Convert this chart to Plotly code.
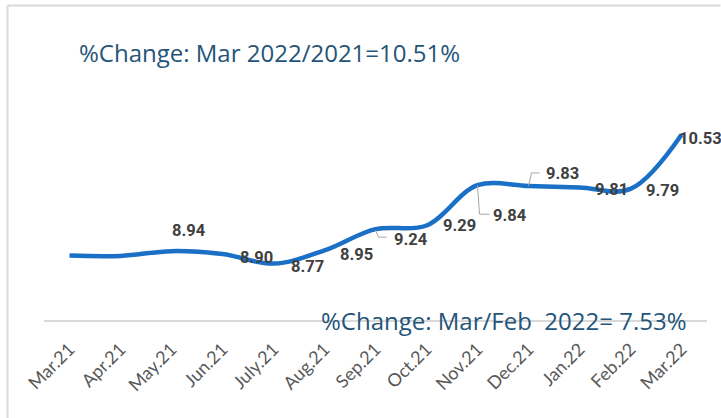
import plotly.graph_objects as go

categories = ["Mar.21", "Apr.21", "May.21", "Jun.21", "July.21", "Aug.21", "Sep.21",
              "Oct.21", "Nov.21", "Dec.21", "Jan.22", "Feb.22", "Mar.22"]
values = [8.88, 8.875, 8.94, 8.90, 8.77, 8.95, 9.24, 9.29, 9.84, 9.83, 9.81, 9.79, 10.53]
label_text = ["", "", "8.94", "8.90", "8.77", "8.95", "9.24", "9.29", "9.84", "9.83", "9.81", "9.79", "10.53"]
title_top = "%Change: Mar 2022/2021=10.51%"
title_bottom = "%Change: Mar/Feb  2022= 7.53%"

# label placement (pixel offsets from the point) - styling only
label_offsets = [None, None, (17, 21), (34, -3), (34, -3), (32, -4), (35, -10), (33, 0),
                 (32, -30), (34, 12), (32, -2), (32, -2), (19, -4)]
# leader line paths (pixel, relative to point, y up)
leaders = {6: "M0,-1 L3,-8 L11,-8", 8: "M0,0 L2,-29 L12,-29", 9: "M0,0 L3,13 L11,13"}

W, H = 721, 418
L, R, T, B = 43.5, 13.5, 27, 98
pw, ph = W - L - R, H - T - B

def px2paper(x, y):
    return (x - L) / pw, (H - B - y) / ph

fig = go.Figure()
fig.add_trace(go.Scatter(
    x=categories, y=values, mode="lines",
    line=dict(color="#1a6fc6", width=4.5, shape="spline", smoothing=1.0),
    hoverinfo="skip", showlegend=False, cliponaxis=False,
))

annotations = []
for i, (c, v, t) in enumerate(zip(categories, values, label_text)):
    if not t:
        continue
    dx, dy = label_offsets[i]
    annotations.append(dict(x=c, y=v, xref="x", yref="y", text=t, showarrow=False,
                            xshift=dx, yshift=dy,
                            font=dict(family="Roboto", size=16.5, color="#404040", weight="bold")))

shapes = []
for i, path in leaders.items():
    shapes.append(dict(type="path", xref="x", yref="y", xsizemode="pixel", ysizemode="pixel",
                       xanchor=categories[i], yanchor=values[i], path=path,
                       line=dict(color="#a6a6a6", width=1)))

# chart frame
x0p, y0p = px2paper(7, 5.5)
x1p, y1p = px2paper(721, 418)
shapes.append(dict(type="line", xref="paper", yref="paper", x0=x0p, x1=x1p, y0=y0p, y1=y0p,
                   line=dict(color="#d9d9d9", width=2)))
shapes.append(dict(type="line", xref="paper", yref="paper", x0=x0p, x1=x0p, y0=y0p, y1=y1p,
                   line=dict(color="#d9d9d9", width=2)))

tx, ty = px2paper(77, 52)
annotations.append(dict(x=tx, y=ty, xref="paper", yref="paper", text=title_top, showarrow=False,
                        xanchor="left", yanchor="middle",
                        font=dict(family="Open Sans", size=24, color="#245579")))
bx, by = px2paper(688, 320)
annotations.append(dict(x=bx, y=by, xref="paper", yref="paper", text=title_bottom, showarrow=False,
                        xanchor="right", yanchor="middle",
                        font=dict(family="Open Sans", size=24, color="#245579")))

fig.update_layout(
    width=W, height=H, margin=dict(l=L, r=R, t=T, b=B, autoexpand=False),
    paper_bgcolor="white", plot_bgcolor="white",
    annotations=annotations, shapes=shapes,
    xaxis=dict(type="category", showgrid=False, showline=True, linecolor="#d9d9d9", linewidth=1.5,
               tickangle=-45, ticks="outside", ticklen=10, tickcolor="rgba(0,0,0,0)",
               tickfont=dict(family="Lato", size=18, color="#595959"), zeroline=False,
               range=[-0.5, 12.5], automargin=False),
    yaxis=dict(range=[8, 12], visible=False, showgrid=False, zeroline=False, automargin=False),
)

fig.write_html("out.html", config={"displayModeBar": False},
               post_script="document.body.style.margin='0';document.body.style.overflow='hidden';")
